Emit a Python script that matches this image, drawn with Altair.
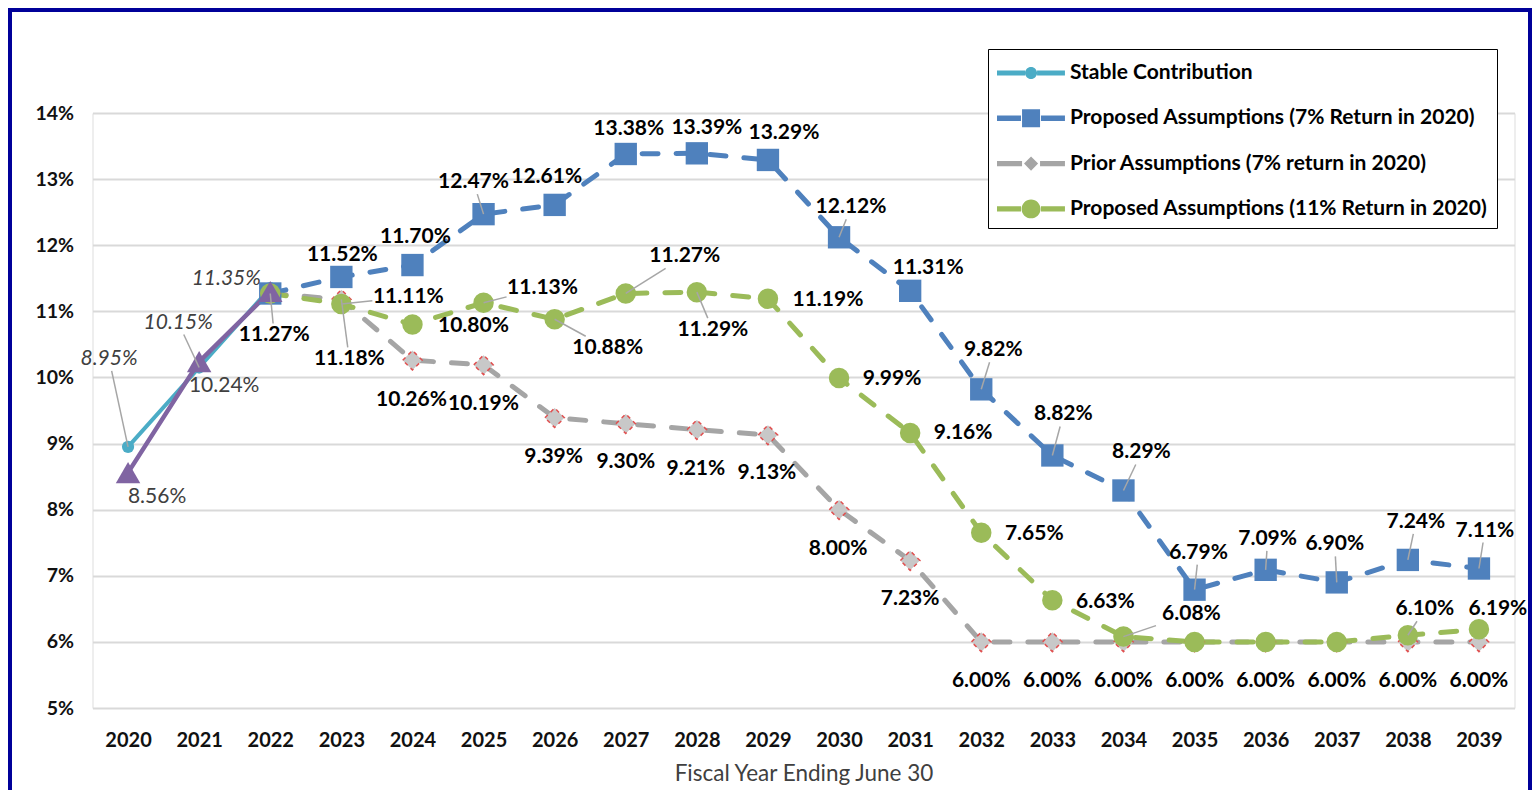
import altair as alt
import pandas as pd

YEARS = list(range(2020, 2040))

S_STABLE = "Stable Contribution"
S_PROP7 = "Proposed Assumptions (7% Return in 2020)"
S_PRIOR = "Prior Assumptions (7% return in 2020)"
S_PROP11 = "Proposed Assumptions (11% Return in 2020)"
S_ACTUAL = "Actual"

STABLE = [8.95, 10.15, 11.35]
ACTUAL = [8.56, 10.24, 11.30]
PROP7 = [None, None, 11.27, 11.52, 11.70, 12.47, 12.61, 13.38, 13.39, 13.29,
         12.12, 11.31, 9.82, 8.82, 8.29, 6.79, 7.09, 6.90, 7.24, 7.11]
PRIOR = [None, None, 11.27, 11.18, 10.26, 10.19, 9.39, 9.30, 9.21, 9.13,
         8.00, 7.23, 6.00, 6.00, 6.00, 6.00, 6.00, 6.00, 6.00, 6.00]
PROP11 = [None, None, 11.27, 11.11, 10.80, 11.13, 10.88, 11.27, 11.29, 11.19,
          9.99, 9.16, 7.65, 6.63, 6.08, 6.00, 6.00, 6.00, 6.10, 6.19]

SERIES = {S_STABLE: STABLE, S_ACTUAL: ACTUAL, S_PROP7: PROP7, S_PRIOR: PRIOR, S_PROP11: PROP11}

# label placement (pixel offsets from the point, layout only): series, year, dx, dy, leader
LABEL_LAYOUT = [
    (S_STABLE, 2020, -19, -88, True), (S_STABLE, 2021, -21, -45, True), (S_STABLE, 2022, -44, -9, False),
    (S_ACTUAL, 2020, 29, 24, False), (S_ACTUAL, 2021, 25, 24, False),
    (S_PRIOR, 2022, 4, 42, True), (S_PRIOR, 2023, 8, 60, True), (S_PRIOR, 2024, -1, 40, False),
    (S_PRIOR, 2025, 0, 39, False), (S_PRIOR, 2026, -1, 39, False), (S_PRIOR, 2027, 0, 38, False),
    (S_PRIOR, 2028, -1, 39, False), (S_PRIOR, 2029, -1, 38, False), (S_PRIOR, 2030, -1, 39, False),
    (S_PRIOR, 2031, 0, 38, False),
] + [(S_PRIOR, y, 0, 39, False) for y in range(2032, 2040)] + [
    (S_PROP11, 2023, 67, -7, True), (S_PROP11, 2024, 61, 1, False), (S_PROP11, 2025, 59, -15, True),
    (S_PROP11, 2026, 53, 29, True), (S_PROP11, 2027, 59, -37, True), (S_PROP11, 2028, 16, 38, True),
    (S_PROP11, 2029, 60, 1, False), (S_PROP11, 2030, 53, 1, False), (S_PROP11, 2031, 53, 0, False),
    (S_PROP11, 2032, 53, 1, False), (S_PROP11, 2033, 53, 2, False), (S_PROP11, 2034, 68, -23, True),
    (S_PROP11, 2038, 17, -26, True), (S_PROP11, 2039, 19, -20, False),
    (S_PROP7, 2023, 1, -22, False), (S_PROP7, 2024, 3, -28, False), (S_PROP7, 2025, -10, -32, True),
    (S_PROP7, 2026, -8, -28, False), (S_PROP7, 2027, 3, -25, False), (S_PROP7, 2028, 10, -25, False),
    (S_PROP7, 2029, 16, -27, False), (S_PROP7, 2030, 12, -30, True), (S_PROP7, 2031, 18, -23, False),
    (S_PROP7, 2032, 12, -39, True), (S_PROP7, 2033, 11, -41, True), (S_PROP7, 2034, 18, -38, True),
    (S_PROP7, 2035, 4, -37, True), (S_PROP7, 2036, 2, -31, True), (S_PROP7, 2037, -2, -38, True),
    (S_PROP7, 2038, 8, -38, True), (S_PROP7, 2039, 6, -38, True),
]

W, H = 1422, 595
X_DOM = [2019.5, 2039.5]
Y_DOM = [5, 14]
PX_X = W / (X_DOM[1] - X_DOM[0])
PX_Y = H / (Y_DOM[1] - Y_DOM[0])

rows = []
for name, vals in SERIES.items():
    for yr, v in zip(YEARS, vals):
        if v is not None:
            rows.append({"series": name, "year": yr, "value": v})
df = pd.DataFrame(rows)

lab_rows = []
for name, yr, dx, dy, leader in LABEL_LAYOUT:
    v = SERIES[name][YEARS.index(yr)]
    t = min(36 / abs(dx) if dx else 9e9, 12 / abs(dy) if dy else 9e9, 1.0)
    ex, ey = dx * (1 - t), dy * (1 - t)
    lab_rows.append({
        "series": name, "year": yr, "value": v, "text": f"{v:.2f}%",
        "lx": yr + dx / PX_X, "ly": v - dy / PX_Y,
        "ex": yr + ex / PX_X, "ey": v - ey / PX_Y, "leader": leader,
        "style": "teal" if name == S_STABLE else ("plain" if name == S_ACTUAL else "bold"),
    })
labels = pd.DataFrame(lab_rows)

FONT = "Lato"
C_TEAL, C_BLUE, C_GRAY, C_GREEN, C_PURPLE = "#4BACC6", "#4F81BD", "#A5A5A5", "#9BBB59", "#8064A2"

xenc = alt.X("year:Q", scale=alt.Scale(domain=X_DOM, nice=False, zero=False),
             axis=alt.Axis(values=YEARS, format="d", grid=False, domain=False, ticks=False,
                           labelFont=FONT, labelFontWeight="bold", labelFontSize=20, labelColor="#111",
                           labelPadding=22, title="Fiscal Year Ending June 30", titleFont=FONT,
                           titleFontWeight="normal", titleFontSize=22.5, titleColor="#404040", titlePadding=12))
yenc = alt.Y("value:Q", scale=alt.Scale(domain=Y_DOM, nice=False, zero=False),
             axis=alt.Axis(values=list(range(5, 15)), labelExpr="datum.value + '%'", domain=False, ticks=False,
                           grid=True, gridColor="#D9D9D9", gridWidth=2, labelFont=FONT, labelFontWeight="bold",
                           labelFontSize=19.5, labelColor="#111", labelPadding=19, title=None))

base = alt.Chart(df).encode(x=xenc, y=yenc)

def sel(name):
    return base.transform_filter(alt.datum.series == name)

dash = [16, 18]
l_teal = sel(S_STABLE).mark_line(color=C_TEAL, strokeWidth=4)
l_blue = sel(S_PROP7).mark_line(color=C_BLUE, strokeWidth=5, strokeDash=dash, strokeCap="round")
l_gray = sel(S_PRIOR).mark_line(color=C_GRAY, strokeWidth=5, strokeDash=dash, strokeCap="round")
l_green = sel(S_PROP11).mark_line(color=C_GREEN, strokeWidth=5, strokeDash=dash, strokeCap="round")
l_purple = sel(S_ACTUAL).mark_line(color=C_PURPLE, strokeWidth=4.5)

p_teal = sel(S_STABLE).mark_point(shape="circle", filled=True, size=150, color=C_TEAL, opacity=1)
p_blue = sel(S_PROP7).mark_point(shape="square", filled=True, size=500, color=C_BLUE, opacity=1)
p_gray = sel(S_PRIOR).mark_point(shape="diamond", filled=True, size=380, fill="#C8C8C8", stroke="#E05050",
                                 strokeWidth=1.5, strokeDash=[4, 4], opacity=1)
p_green = sel(S_PROP11).mark_point(shape="circle", filled=True, size=420, color=C_GREEN, opacity=1)
p_purple = sel(S_ACTUAL).mark_point(shape="triangle-up", filled=True, size=600, color=C_PURPLE, opacity=1)

lab = alt.Chart(labels)
leaders = lab.transform_filter(alt.datum.leader).mark_rule(color="#A6A6A6", strokeWidth=1.5).encode(
    x=alt.X("year:Q", scale=alt.Scale(domain=X_DOM)), y=alt.Y("value:Q", scale=alt.Scale(domain=Y_DOM)),
    x2="ex:Q", y2="ey:Q")
t_bold = lab.transform_filter(alt.datum.style == "bold").mark_text(
    font=FONT, fontWeight="bold", fontSize=21, color="#000", baseline="middle").encode(
    x="lx:Q", y="ly:Q", text="text:N")
t_teal = lab.transform_filter(alt.datum.style == "teal").mark_text(
    font=FONT, fontStyle="italic", fontSize=21, color="#404040", baseline="middle").encode(
    x="lx:Q", y="ly:Q", text="text:N")
t_plain = lab.transform_filter(alt.datum.style == "plain").mark_text(
    font=FONT, fontSize=21, color="#404040", baseline="middle").encode(
    x="lx:Q", y="ly:Q", text="text:N")

# legend symbols (unit = 15 px, origin of symbol at u=-1): dash + marker + dash
LEG_NAMES = [S_STABLE, S_PROP7, S_PRIOR, S_PROP11]
def seg(a, b, h=0.18):
    return f"M{a},{-h}H{b}V{h}H{a}Z "
def circ(cx, r):
    return f"M{cx - r},0A{r},{r} 0 1,1 {cx + r},0A{r},{r} 0 1,1 {cx - r},0Z "
MC = 1.27
LEG_PATHS = [
    seg(-1, MC - 0.4, 0.17) + seg(MC + 0.4, 3.53, 0.17) + circ(MC, 0.4),
    seg(-1, 0.6) + seg(1.93, 3.53) + f"M{MC - 0.6},-0.6H{MC + 0.6}V0.6H{MC - 0.6}Z",
    seg(-1, 0.67) + seg(1.87, 3.53) + f"M{MC},-0.47L{MC + 0.47},0L{MC},0.47L{MC - 0.47},0Z",
    seg(-1, 0.6) + seg(1.93, 3.53) + circ(MC, 0.63),
]
legend_layer = base.transform_filter("false").mark_point(filled=True, opacity=1).encode(
    color=alt.Color("series:N", scale=alt.Scale(domain=LEG_NAMES, range=[C_TEAL, C_BLUE, C_GRAY, C_GREEN]),
                    legend=alt.Legend(title=None, orient="none", legendX=895.5, legendY=-64,
                                      symbolSize=900, symbolStrokeWidth=0, labelFont=FONT,
                                      labelFontWeight="bold", labelFontSize=21, labelColor="#000",
                                      labelOffset=43, rowPadding=20.3, padding=9, strokeColor="#000",
                                      fillColor="#FFFFFF", labelLimit=600)),
    shape=alt.Shape("series:N", scale=alt.Scale(domain=LEG_NAMES, range=LEG_PATHS), legend=None),
)

border = alt.Chart(pd.DataFrame({"k": [0]})).mark_rect(filled=False, stroke="#000099", strokeWidth=4).encode(
    x=alt.value(-82.5), x2=alt.value(1437.5), y=alt.value(-103), y2=alt.value(700))

chart = alt.layer(
    l_teal, l_gray, l_blue, l_green, l_purple,
    p_teal, p_blue, p_gray, p_green, p_purple,
    leaders, t_bold, t_teal, t_plain, legend_layer, border,
).properties(
    width=W, height=H,
    autosize=alt.AutoSizeParams(type="none"),
    padding={"left": 84.5, "top": 105, "right": 17.5, "bottom": 90},
).configure_view(stroke=None).configure(background="#FFFFFF")

chart.save("out.html", embed_options={"renderer": "svg", "actions": False})
